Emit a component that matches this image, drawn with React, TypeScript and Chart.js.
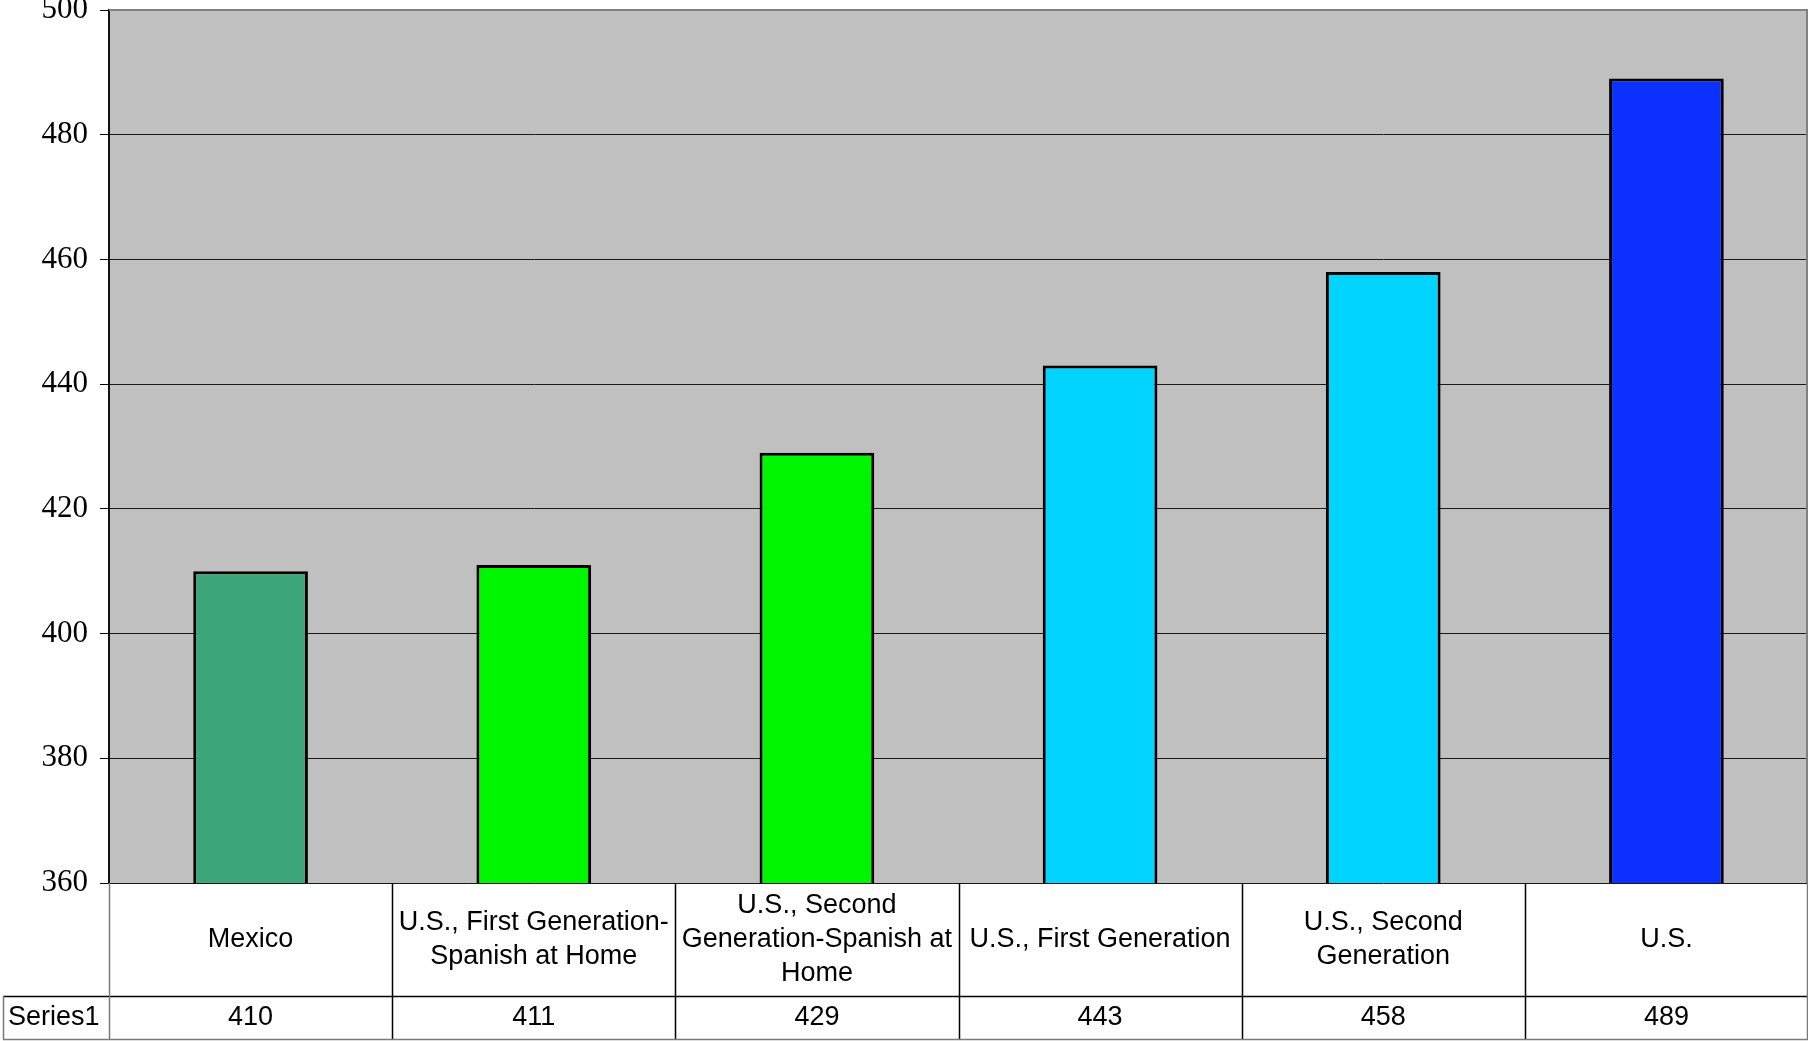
import React, { useEffect, useRef } from "react";
import { Chart, registerables } from "chart.js";

Chart.register(...registerables);

// Category labels as they wrap inside the data table cells
const categoryLines: string[][] = [
  ["Mexico"],
  ["U.S., First Generation-", "Spanish at Home"],
  ["U.S., Second", "Generation-Spanish at", "Home"],
  ["U.S., First Generation"],
  ["U.S., Second", "Generation"],
  ["U.S."],
];
const categories = categoryLines.map((l) => l.join(" "));
const seriesName = "Series1";
const seriesValues = [410, 411, 429, 443, 458, 489];
const barColors = ["#3DA77B", "#00F500", "#00F500", "#00D4FF", "#00D4FF", "#0B30FF"];
const yMin = 360;
const yMax = 500;
const yStep = 20;

const W = 1808;
const H = 1041;
const PLOT_LEFT = 109;
const PLOT_TOP = 10;
const TABLE_LABEL_ROW = 113;
const TABLE_VALUE_ROW = 43;
const TABLE_LEFT = 3;

const tablePlugin = {
  id: "dataTable",
  beforeDraw(chart: any) {
    const { ctx, chartArea } = chart;
    ctx.save();
    ctx.fillStyle = "#C0C0C0";
    ctx.fillRect(chartArea.left, chartArea.top, chartArea.right - chartArea.left, chartArea.bottom - chartArea.top);
    ctx.restore();
  },
  afterDraw(chart: any) {
    const { ctx, chartArea } = chart;
    const xs = chart.scales.x;
    const n = categories.length;
    const step = n > 1 ? xs.getPixelForValue(1) - xs.getPixelForValue(0) : chartArea.right - chartArea.left;
    const top = chartArea.bottom;
    const mid = top + TABLE_LABEL_ROW;
    const bottom = mid + TABLE_VALUE_ROW;

    ctx.save();
    // plot frame (top and right edges)
    ctx.strokeStyle = "#808080";
    ctx.lineWidth = 2;
    ctx.beginPath();
    ctx.moveTo(chartArea.left, chartArea.top);
    ctx.lineTo(chartArea.right - 1, chartArea.top);
    ctx.lineTo(chartArea.right - 1, chartArea.bottom);
    ctx.stroke();

    // table grid
    ctx.lineWidth = 1.5;
    ctx.strokeStyle = "#000";
    ctx.beginPath();
    ctx.moveTo(TABLE_LEFT, mid + 0.5);
    ctx.lineTo(chartArea.right, mid + 0.5);
    for (let i = 1; i < n; i++) {
      const bx = Math.round(xs.getPixelForValue(i) - step / 2) + 0.5;
      ctx.moveTo(bx, top);
      ctx.lineTo(bx, bottom);
    }
    ctx.stroke();

    ctx.strokeStyle = "#7A7A7A";
    ctx.beginPath();
    ctx.moveTo(chartArea.left + 0.5, top);
    ctx.lineTo(chartArea.left + 0.5, bottom);
    ctx.moveTo(TABLE_LEFT + 0.5, mid);
    ctx.lineTo(TABLE_LEFT + 0.5, bottom);
    ctx.moveTo(TABLE_LEFT, bottom + 0.5);
    ctx.lineTo(chartArea.right, bottom + 0.5);
    ctx.moveTo(chartArea.right - 0.5, top);
    ctx.lineTo(chartArea.right - 0.5, bottom);
    ctx.stroke();

    // texts
    ctx.fillStyle = "#000";
    ctx.font = '27px "Liberation Sans", Arial, sans-serif';
    ctx.textBaseline = "middle";
    ctx.textAlign = "center";
    const lineH = 34;
    const labelCenter = top + TABLE_LABEL_ROW / 2;
    const valueCenter = mid + TABLE_VALUE_ROW / 2;
    for (let i = 0; i < n; i++) {
      const cx = xs.getPixelForValue(i);
      const lines = categoryLines[i];
      const y0 = labelCenter - ((lines.length - 1) * lineH) / 2;
      lines.forEach((ln, k) => ctx.fillText(ln, cx, y0 + k * lineH));
      ctx.fillText(String(seriesValues[i]), cx, valueCenter);
    }
    ctx.textAlign = "left";
    ctx.fillText(seriesName, TABLE_LEFT + 5, valueCenter);
    ctx.restore();
  },
};

export default function App() {
  const canvasRef = useRef<HTMLCanvasElement | null>(null);

  useEffect(() => {
    document.body.style.margin = "0";
    const canvas = canvasRef.current;
    if (!canvas) return;
    const chart = new Chart(canvas, {
      type: "bar",
      data: {
        labels: categories,
        datasets: [
          {
            label: seriesName,
            data: seriesValues,
            backgroundColor: barColors,
            borderColor: "#000",
            borderWidth: 3,
            barPercentage: 0.405,
            categoryPercentage: 1,
          },
        ],
      },
      options: {
        responsive: false,
        animation: false,
        layout: { padding: { top: PLOT_TOP, bottom: TABLE_LABEL_ROW + TABLE_VALUE_ROW + 2, left: 0, right: 0 } },
        plugins: {
          legend: { display: false },
          tooltip: { enabled: false },
        },
        scales: {
          x: {
            display: false,
          },
          y: {
            min: yMin,
            max: yMax,
            ticks: {
              stepSize: yStep,
              padding: 12,
              color: "#000",
              font: { family: '"Liberation Serif", "Times New Roman", serif', size: 31 },
            },
            grid: {
              color: "#1A1A1A",
              lineWidth: 1,
              tickLength: 9,
              tickColor: "#000",
            },
            border: { display: true, color: "#111", width: 2 },
            afterFit(scale: any) {
              scale.width = PLOT_LEFT;
              scale.paddingTop = 0;
              scale.paddingBottom = 0;
            },
          },
        },
      },
      plugins: [tablePlugin],
    });
    return () => chart.destroy();
  }, []);

  return (
    <div style={{ width: W, height: H, background: "#fff" }}>
      <canvas ref={canvasRef} width={W} height={H} />
    </div>
  );
}
